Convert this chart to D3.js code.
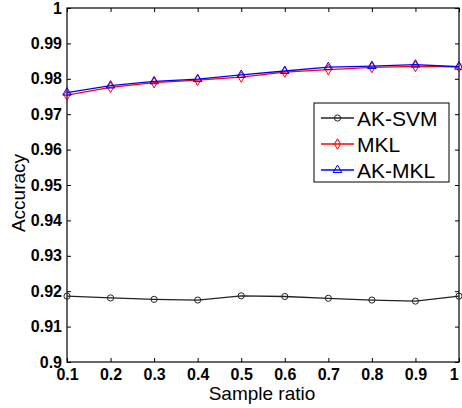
<!DOCTYPE html>
<html>
<head>
<meta charset="utf-8">
<script src="https://cdn.jsdelivr.net/npm/d3@7"></script>
<style>
  body { margin: 0; background: #fff; }
  text { font-family: "Liberation Sans", Arial, sans-serif; }
</style>
</head>
<body>
<svg width="462" height="408"></svg>
<script>
const svg = d3.select('svg');
const MARGIN = { TOP: 8, RIGHT: 3, BOTTOM: 46, LEFT: 67 };
const WIDTH = +svg.attr('width') - MARGIN.LEFT - MARGIN.RIGHT;
const HEIGHT = +svg.attr('height') - MARGIN.TOP - MARGIN.BOTTOM;

// data
const ratios = [0.1, 0.2, 0.3, 0.4, 0.5, 0.6, 0.7, 0.8, 0.9, 1];
const akSvm = [0.9186, 0.9181, 0.9177, 0.9175, 0.9187, 0.9185, 0.918, 0.9175, 0.9172, 0.9186];
const mkl = [0.9754, 0.9776, 0.9789, 0.9796, 0.9805, 0.9819, 0.9826, 0.9832, 0.9835, 0.9834];
const akMkl = [0.9761, 0.9781, 0.9793, 0.9799, 0.9811, 0.9822, 0.9833, 0.9836, 0.984, 0.9834];
const yTicks = [0.9, 0.91, 0.92, 0.93, 0.94, 0.95, 0.96, 0.97, 0.98, 0.99, 1];

const series = [
  { name: 'AK-SVM', values: akSvm, color: '#222', marker: 'circle' },
  { name: 'MKL', values: mkl, color: '#ff0000', marker: 'diamond' },
  { name: 'AK-MKL', values: akMkl, color: '#0000ff', marker: 'triangle' }
];

const g = svg.append('g')
  .attr('transform', `translate(${MARGIN.LEFT}, ${MARGIN.TOP})`);

const x = d3.scaleLinear().domain([0.1, 1]).range([0, WIDTH]);
const y = d3.scaleLinear().domain([0.9, 1]).range([HEIGHT, 0]);

// axes with inward ticks, mirrored on top/right
const fmt = d => d === 1 ? '1' : d3.format('')(d);
const tickStyle = sel => {
  sel.select('.domain').remove();
  sel.selectAll('line').attr('stroke', '#000');
  sel.selectAll('text').style('font-size', '16px').style('font-weight', 'bold').attr('fill', '#000');
};

const xAxis = g.append('g')
  .attr('transform', `translate(0,${HEIGHT})`)
  .call(d3.axisBottom(x).tickValues(ratios).tickFormat(fmt).tickSizeInner(-4).tickSizeOuter(0).tickPadding(8))
  .call(tickStyle);
xAxis.selectAll('text').attr('dy', '0.6em');
// keep the last label inside the window
xAxis.selectAll('text').filter(d => d === 1).attr('text-anchor', 'end').attr('dx', '-0.05em');

g.append('g')
  .call(d3.axisTop(x).tickValues(ratios).tickFormat('').tickSizeInner(-4).tickSizeOuter(0))
  .call(tickStyle);

g.append('g')
  .call(d3.axisLeft(y).tickValues(yTicks).tickFormat(fmt).tickSizeInner(-4).tickSizeOuter(0).tickPadding(5))
  .call(tickStyle);

g.append('g')
  .attr('transform', `translate(${WIDTH},0)`)
  .call(d3.axisRight(y).tickValues(yTicks).tickFormat('').tickSizeInner(-4).tickSizeOuter(0))
  .call(tickStyle);

g.append('rect')
  .attr('width', WIDTH).attr('height', HEIGHT)
  .attr('fill', 'none').attr('stroke', '#000').attr('stroke-width', 1.2);

const symbolFor = m => {
  if (m === 'circle') return d3.symbol().type(d3.symbolCircle).size(30);
  if (m === 'diamond') return d3.symbol().type(d3.symbolDiamond).size(32);
  return d3.symbol().type(d3.symbolTriangle).size(32);
};

const line = d3.line()
  .x((d, i) => x(ratios[i]))
  .y(d => y(d));

series.forEach(s => {
  g.append('path')
    .datum(s.values)
    .attr('fill', 'none')
    .attr('stroke', s.color)
    .attr('stroke-width', 1.3)
    .attr('d', line);

  g.selectAll(null)
    .data(s.values)
    .enter()
    .append('path')
    .attr('transform', (d, i) => `translate(${x(ratios[i])},${y(d)})`)
    .attr('d', symbolFor(s.marker))
    .attr('fill', 'none')
    .attr('stroke', s.color)
    .attr('stroke-width', 1);
});

// axis titles
svg.append('text')
  .attr('x', MARGIN.LEFT + WIDTH / 2 - 1)
  .attr('y', 400)
  .attr('text-anchor', 'middle')
  .style('font-size', '19px')
  .text('Sample ratio');

svg.append('text')
  .attr('transform', `translate(25,${MARGIN.TOP + HEIGHT / 2 + 8}) rotate(-90)`)
  .attr('text-anchor', 'middle')
  .style('font-size', '19px')
  .text('Accuracy');

// legend
const legend = svg.append('g').attr('transform', 'translate(314,103)');
legend.append('rect')
  .attr('width', 135).attr('height', 79)
  .attr('fill', '#fff').attr('stroke', '#000').attr('stroke-width', 1);

series.forEach((s, i) => {
  const row = legend.append('g').attr('transform', `translate(0,${15 + i * 26})`);
  row.append('line')
    .attr('x1', 7).attr('x2', 40)
    .attr('stroke', s.color).attr('stroke-width', 1.3);
  row.append('path')
    .attr('transform', 'translate(23.5,0)')
    .attr('d', symbolFor(s.marker))
    .attr('fill', 'none').attr('stroke', s.color);
  row.append('text')
    .attr('x', 43).attr('dy', '0.36em')
    .style('font-size', '21px')
    .text(s.name);
});
</script>
</body>
</html>
